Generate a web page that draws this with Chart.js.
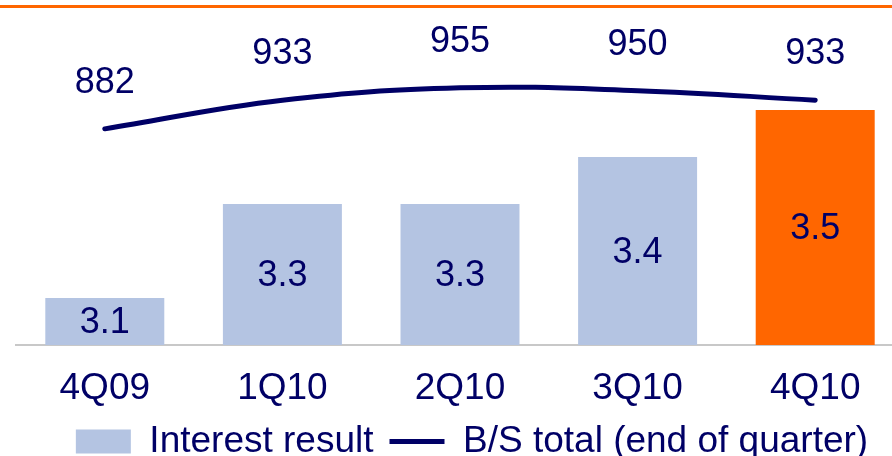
<!DOCTYPE html>
<html>
<head>
<meta charset="utf-8">
<script src="https://cdn.jsdelivr.net/npm/chart.js@4"></script>
<style>
  html, body { margin: 0; padding: 0; background: #fff; overflow: hidden; }
  #wrap { position: relative; width: 944px; height: 470px; }
</style>
</head>
<body>
<div id="wrap"><canvas id="myChart"></canvas></div>
<script>
// Data
var quarters = ['4Q09', '1Q10', '2Q10', '3Q10', '4Q10'];
var interestResult = [3.1, 3.3, 3.3, 3.4, 3.5];
var bsTotal = [882, 933, 955, 950, 933];
var barColors = ['#B4C4E2', '#B4C4E2', '#B4C4E2', '#B4C4E2', '#FF6600'];

var navy = '#000066';
var fontFamily = 'Arial, "Liberation Sans", sans-serif';

// orange rule along the top edge
var topRule = {
  id: 'topRule',
  beforeDraw: function (chart) {
    var ctx = chart.ctx;
    ctx.save();
    ctx.fillStyle = '#FF6600';
    ctx.fillRect(0, 5, chart.width, 3);
    ctx.restore();
  }
};

// value labels: inside the bars, above the line points
var valueLabels = {
  id: 'valueLabels',
  afterDatasetsDraw: function (chart) {
    var ctx = chart.ctx;
    var yScale = chart.scales.y;
    var basePx = yScale.getPixelForValue(yScale.min);
    ctx.save();
    ctx.fillStyle = navy;
    ctx.font = '36px ' + fontFamily;
    ctx.textAlign = 'center';
    ctx.textBaseline = 'middle';
    chart.getDatasetMeta(0).data.forEach(function (bar, i) {
      var topPx = yScale.getPixelForValue(interestResult[i]);
      ctx.fillText(interestResult[i].toFixed(1), bar.x, (topPx + basePx) / 2 + 2);
    });
    chart.getDatasetMeta(1).data.forEach(function (pt, i) {
      ctx.fillText(String(bsTotal[i]), pt.x, pt.y - 46);
    });
    ctx.restore();
  }
};

var ctx = document.getElementById('myChart');
var myChart = new Chart(ctx, {
  data: {
    labels: quarters,
    datasets: [{
      type: 'bar',
      label: 'Interest result',
      data: interestResult,
      backgroundColor: barColors,
      yAxisID: 'y',
      categoryPercentage: 1,
      barPercentage: 0.67,
      pointStyle: 'rect'
    }, {
      type: 'line',
      label: 'B/S total (end of quarter)',
      data: bsTotal,
      borderColor: navy,
      backgroundColor: navy,
      borderWidth: 5,
      borderCapStyle: 'round',
      tension: 0.4,
      pointRadius: 0,
      pointStyle: 'line',
      yAxisID: 'y2'
    }]
  },
  options: {
    responsive: true,
    maintainAspectRatio: false,
    animation: false,
    layout: { padding: { top: 16, left: 0, right: 0, bottom: 0 } },
    scales: {
      x: {
        grid: { display: false, drawTicks: false },
        border: { display: true, color: '#C8C8C8', width: 2 },
        ticks: { color: navy, font: { size: 37, family: fontFamily }, padding: 22 },
        afterFit: function (scale) { scale.height = 62; }
      },
      y: {
        position: 'left',
        min: 3.0,
        max: 3.7,
        grid: { display: false, drawTicks: false },
        border: { display: false },
        ticks: { display: false },
        afterFit: function (scale) { scale.width = 16; }
      },
      y2: {
        position: 'right',
        min: 497,
        max: 1083,
        grid: { display: false, drawTicks: false },
        border: { display: false },
        ticks: { display: false },
        afterFit: function (scale) { scale.width = 40; }
      }
    },
    plugins: {
      tooltip: { enabled: false },
      legend: {
        display: true,
        position: 'bottom',
        labels: {
          color: navy,
          font: { size: 37, family: fontFamily },
          usePointStyle: true,
          pointStyleWidth: 55,
          boxHeight: 24,
          padding: 16
        }
      }
    }
  },
  plugins: [topRule, valueLabels]
});
</script>
</body>
</html>
